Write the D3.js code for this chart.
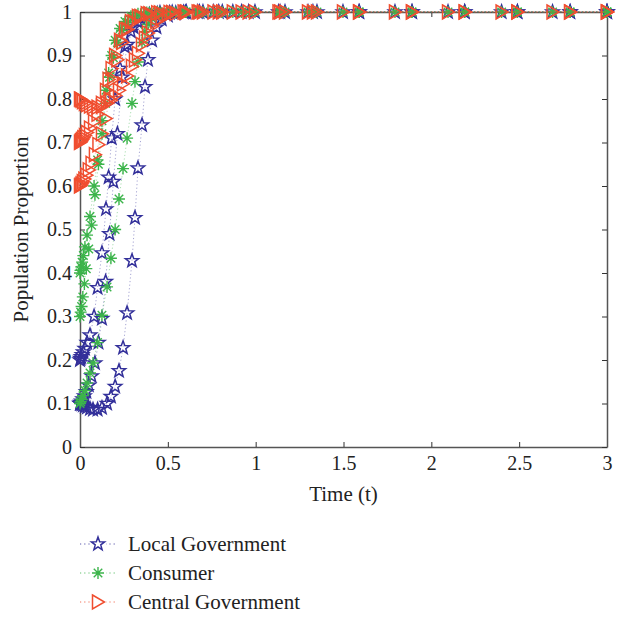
<!DOCTYPE html>
<html><head><meta charset="utf-8">
<script src="https://cdn.jsdelivr.net/npm/d3@7"></script>
<style>
body{margin:0;background:#fff;}
svg{display:block;}
text{font-family:"Liberation Serif","Times New Roman",serif;fill:#222;}
</style>
</head><body>
<svg id="chart" width="629" height="618"></svg>
<script>
// ---- data ----
const seriesNames = ["Local Government", "Consumer", "Central Government"];
const xTicks = [0, 0.5, 1, 1.5, 2, 2.5, 3];
const xTickLabels = ["0", "0.5", "1", "1.5", "2", "2.5", "3"];
const yTicks = [0, 0.1, 0.2, 0.3, 0.4, 0.5, 0.6, 0.7, 0.8, 0.9, 1];
const yTickLabels = ["0", "0.1", "0.2", "0.3", "0.4", "0.5", "0.6", "0.7", "0.8", "0.9", "1"];

// run 1 (slow)
const time1 = [0, 0.004, 0.009, 0.017, 0.028, 0.04, 0.057, 0.074, 0.1, 0.125, 0.154, 0.176, 0.2, 0.222, 0.245, 0.268, 0.296, 0.313, 0.33, 0.353, 0.37, 0.387, 0.41, 0.435, 0.465, 0.5, 0.545, 0.6, 0.67, 0.76, 0.87, 0.996, 1.167, 1.349, 1.588, 1.89, 2.19, 2.49, 2.79, 3.0];
const local1 = [0.1, 0.099, 0.098, 0.096, 0.093, 0.091, 0.088, 0.086, 0.086, 0.09, 0.1, 0.116, 0.139, 0.175, 0.228, 0.308, 0.428, 0.527, 0.641, 0.74, 0.828, 0.89, 0.935, 0.965, 0.983, 0.992, 0.997, 0.999, 1, 1, 1, 1, 1, 1, 1, 1, 1, 1, 1, 1];
const consumer1 = [0.1, 0.104, 0.109, 0.118, 0.13, 0.147, 0.17, 0.193, 0.24, 0.303, 0.368, 0.434, 0.5, 0.57, 0.64, 0.71, 0.79, 0.84, 0.885, 0.93, 0.955, 0.972, 0.985, 0.992, 0.996, 0.998, 0.999, 1, 1, 1, 1, 1, 1, 1, 1, 1, 1, 1, 1, 1];
const central1 = [0.8, 0.799, 0.797, 0.794, 0.79, 0.787, 0.784, 0.782, 0.781, 0.783, 0.79, 0.797, 0.808, 0.82, 0.835, 0.853, 0.875, 0.89, 0.905, 0.925, 0.94, 0.952, 0.967, 0.978, 0.987, 0.993, 0.997, 0.999, 1, 1, 1, 1, 1, 1, 1, 1, 1, 1, 1, 1];

// run 2
const time2 = [0, 0.003, 0.007, 0.012, 0.019, 0.028, 0.04, 0.057, 0.08, 0.1, 0.125, 0.148, 0.163, 0.18, 0.2, 0.228, 0.256, 0.29, 0.33, 0.38, 0.44, 0.51, 0.59, 0.68, 0.79, 0.92, 1.139, 1.298, 1.497, 1.793, 2.095, 2.4, 2.69, 3.0];
const local2 = [0.2, 0.203, 0.207, 0.212, 0.218, 0.226, 0.24, 0.257, 0.3, 0.366, 0.446, 0.547, 0.62, 0.71, 0.8, 0.87, 0.92, 0.955, 0.977, 0.99, 0.996, 0.998, 0.999, 1, 1, 1, 1, 1, 1, 1, 1, 1, 1, 1];
const consumer2 = [0.4, 0.406, 0.414, 0.425, 0.44, 0.46, 0.487, 0.53, 0.6, 0.66, 0.75, 0.82, 0.86, 0.9, 0.935, 0.962, 0.978, 0.99, 0.996, 0.999, 1, 1, 1, 1, 1, 1, 1, 1, 1, 1, 1, 1, 1, 1];
const central2 = [0.7, 0.702, 0.704, 0.707, 0.711, 0.716, 0.723, 0.733, 0.748, 0.765, 0.79, 0.82, 0.845, 0.87, 0.9, 0.935, 0.96, 0.978, 0.99, 0.996, 0.998, 0.999, 1, 1, 1, 1, 1, 1, 1, 1, 1, 1, 1, 1];

// run 3
const time3 = [0, 0.004, 0.009, 0.016, 0.025, 0.036, 0.05, 0.066, 0.085, 0.105, 0.125, 0.146, 0.168, 0.19, 0.213, 0.24, 0.27, 0.305, 0.345, 0.395, 0.455, 0.525, 0.605, 0.7, 0.81, 0.96, 1.13, 1.326, 1.59, 1.89, 2.19, 2.49, 2.79, 3.0];
const local3 = [0.1, 0.102, 0.105, 0.11, 0.117, 0.127, 0.142, 0.163, 0.193, 0.24, 0.295, 0.38, 0.49, 0.61, 0.72, 0.85, 0.925, 0.965, 0.985, 0.994, 0.998, 0.999, 1, 1, 1, 1, 1, 1, 1, 1, 1, 1, 1, 1];
const consumer3 = [0.3, 0.31, 0.323, 0.345, 0.375, 0.41, 0.455, 0.51, 0.58, 0.65, 0.72, 0.79, 0.85, 0.895, 0.93, 0.958, 0.976, 0.988, 0.995, 0.998, 0.999, 1, 1, 1, 1, 1, 1, 1, 1, 1, 1, 1, 1, 1];
const central3 = [0.6, 0.602, 0.605, 0.61, 0.616, 0.625, 0.637, 0.652, 0.672, 0.695, 0.72, 0.755, 0.8, 0.845, 0.89, 0.93, 0.96, 0.978, 0.99, 0.996, 0.998, 0.999, 1, 1, 1, 1, 1, 1, 1, 1, 1, 1, 1, 1];

// ---- setup ----
const svg = d3.select("#chart");
const xScale = d3.scaleLinear().domain([0, 3]).range([80, 607]);
const yScale = d3.scaleLinear().domain([0, 1]).range([447, 12]);
const colors = ["#33309a", "#3cb44b", "#f04e30"];

function starPath(R, r) {
  const p = [];
  for (let i = 0; i < 10; i++) {
    const a = -Math.PI / 2 + i * Math.PI / 5;
    const rr = i % 2 === 0 ? R : r;
    p.push([rr * Math.cos(a), rr * Math.sin(a)]);
  }
  return "M" + p.map(d => d[0].toFixed(2) + "," + d[1].toFixed(2)).join("L") + "Z";
}
function asteriskPath(L) {
  let s = "";
  for (let i = 0; i < 4; i++) {
    const a = i * Math.PI / 4;
    const dx = L * Math.cos(a), dy = L * Math.sin(a);
    s += `M${(-dx).toFixed(2)},${(-dy).toFixed(2)}L${dx.toFixed(2)},${dy.toFixed(2)}`;
  }
  return s;
}
const markerPaths = [starPath(7, 2.9), asteriskPath(6), "M-5.5,-7L6.5,0L-5.5,7Z"];
const markerStroke = [1.5, 1.4, 1.5];

// ---- axes ----
const axG = svg.append("g");
axG.append("g").attr("transform", "translate(0,447)")
  .call(d3.axisBottom(xScale).tickValues(xTicks).tickFormat((d, i) => xTickLabels[i]).tickSizeInner(-5).tickSizeOuter(0).tickPadding(9));
axG.append("g").attr("transform", "translate(0,12)")
  .call(d3.axisTop(xScale).tickValues(xTicks).tickFormat("").tickSizeInner(-5).tickSizeOuter(0));
axG.append("g").attr("transform", "translate(80,0)")
  .call(d3.axisLeft(yScale).tickValues(yTicks).tickFormat((d, i) => yTickLabels[i]).tickSizeInner(-5).tickSizeOuter(0).tickPadding(8));
axG.append("g").attr("transform", "translate(607,0)")
  .call(d3.axisRight(yScale).tickValues(yTicks).tickFormat("").tickSizeInner(-5).tickSizeOuter(0));
axG.selectAll(".domain").attr("stroke", "#555").attr("stroke-width", 1.5);
axG.selectAll(".tick line").attr("stroke", "#333").attr("stroke-width", 1);
axG.selectAll(".tick text").attr("font-size", 20).attr("font-family", "Liberation Serif, serif").attr("fill", "#222");

svg.append("text").attr("x", 343.5).attr("y", 501).attr("text-anchor", "middle")
  .attr("font-size", 21).text("Time (t)");
svg.append("text").attr("transform", "translate(28,229.5) rotate(-90)").attr("text-anchor", "middle")
  .attr("font-size", 21).text("Population Proportion");

// ---- series ----
const runs = [
  {t: time1, vals: [local1, consumer1, central1]},
  {t: time2, vals: [local2, consumer2, central2]},
  {t: time3, vals: [local3, consumer3, central3]}
];
const lineGen = d3.line().x(d => xScale(d[0])).y(d => yScale(d[1]));
const plotG = svg.append("g");
for (let s = 0; s < 3; s++) {
  runs.forEach(run => {
    const pts = run.t.map((t, i) => [t, run.vals[s][i]]);
    plotG.append("path").attr("d", lineGen(pts)).attr("fill", "none")
      .attr("stroke", colors[s]).attr("stroke-width", 0.8).attr("stroke-dasharray", "1.2,2.4").attr("opacity", 0.55);
    plotG.selectAll(null).data(pts).enter().append("path")
      .attr("d", markerPaths[s])
      .attr("transform", d => `translate(${xScale(d[0])},${yScale(d[1])})`)
      .attr("fill", "none").attr("stroke", colors[s]).attr("stroke-width", markerStroke[s]);
  });
}

// ---- legend ----
const legY = [544, 573, 602];
const lg = svg.append("g");
seriesNames.forEach((name, i) => {
  lg.append("line").attr("x1", 80).attr("x2", 117).attr("y1", legY[i]).attr("y2", legY[i])
    .attr("stroke", colors[i]).attr("stroke-width", 1).attr("stroke-dasharray", "1.2,3").attr("opacity", 0.8);
  lg.append("rect").attr("x", 90).attr("y", legY[i] - 8).attr("width", 16).attr("height", 16).attr("fill", "#fff");
  lg.append("path").attr("d", markerPaths[i]).attr("transform", `translate(98,${legY[i]})`)
    .attr("fill", "none").attr("stroke", colors[i]).attr("stroke-width", markerStroke[i]);
  lg.append("text").attr("x", 128).attr("y", legY[i]).attr("dy", "0.35em").attr("font-size", 21).text(name);
});
</script>
</body></html>
